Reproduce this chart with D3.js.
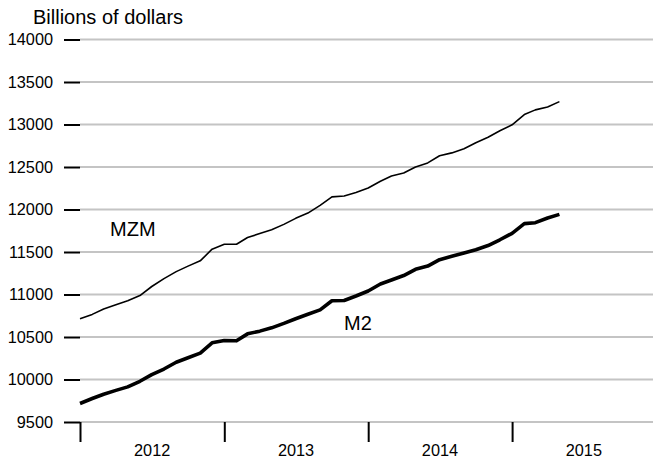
<!DOCTYPE html>
<html>
<head>
<meta charset="utf-8">
<script src="https://cdn.jsdelivr.net/npm/d3@7"></script>
<style>
  body { margin: 0; background: #fff; }
  svg { display: block; font-family: "Liberation Sans", Arial, sans-serif; }
</style>
</head>
<body>
<div id="money_chart"></div>
<script>
// Monthly observations, Jan 2012 - May 2015
var months = d3.timeMonths(new Date(2012, 0, 1), new Date(2015, 5, 1));

var mzm_values = [10715, 10766, 10830, 10880, 10927, 10988, 11094, 11187, 11269, 11334, 11396, 11533,
                  11591, 11591, 11670, 11717, 11761, 11825, 11896, 11958, 12048, 12148, 12159, 12200,
                  12253, 12333, 12393, 12429, 12501, 12548, 12633, 12666, 12715, 12786, 12850, 12926,
                  12996, 13117, 13172, 13207, 13269];

var m2_values  = [9718, 9776, 9827, 9872, 9913, 9979, 10057, 10123, 10203, 10256, 10311, 10432,
                  10459, 10455, 10537, 10569, 10608, 10660, 10715, 10768, 10819, 10927, 10930, 10982,
                  11041, 11123, 11170, 11223, 11296, 11334, 11410, 11449, 11488, 11527, 11576, 11644,
                  11720, 11834, 11845, 11900, 11943];

var y_ticks    = [9500, 10000, 10500, 11000, 11500, 12000, 12500, 13000, 13500, 14000];
var year_ticks = [2012, 2013, 2014, 2015, 2016];
var year_labels = ["2012", "2013", "2014", "2015"];

var width  = 653,
    height = 461,
    margins = {"top": 39.5, "bottom": 39, "left": 80, "right": -3};

var svg = d3.select("#money_chart")
            .append("svg")
              .attr("width", width)
              .attr("height", height);

var x = d3.scaleTime()
          .domain([new Date(2012, 0, 1), new Date(2016, 0, 1)])
          .range([margins.left, width - margins.right]);

var y = d3.scaleLinear()
          .domain([9500, 14000])
          .range([height - margins.bottom, margins.top]);

// Horizontal gridlines
svg.append("g")
   .selectAll("line")
   .data(y_ticks)
   .enter()
   .append("line")
     .attr("x1", margins.left)
     .attr("x2", width)
     .attr("y1", function(d) { return y(d); })
     .attr("y2", function(d) { return y(d); })
     .style("stroke", "#c4c4c4")
     .style("stroke-width", "2px");

// Left axis: short black ticks with labels
var y_axis = d3.axisLeft(y)
               .tickValues(y_ticks)
               .tickSize(16)
               .tickPadding(11)
               .tickFormat(d3.format("d"));

svg.append("g")
     .attr("transform", "translate(" + margins.left + ",0)")
     .call(y_axis)
     .call(function(g) { g.select(".domain").remove(); })
     .call(function(g) {
       g.selectAll(".tick line").style("stroke", "#000").style("stroke-width", "2px");
       g.selectAll(".tick text").style("font-size", "16.3px").style("fill", "#000")
        .style("font-family", "'Liberation Sans', Arial, sans-serif");
     });

// Bottom axis: year boundary ticks, labels centred within each year
var x_axis = d3.axisBottom(x)
               .tickValues(year_ticks.map(function(yr) { return new Date(yr, 0, 1); }))
               .tickSize(20)
               .tickFormat("");

svg.append("g")
     .attr("transform", "translate(0," + y(9500) + ")")
     .call(x_axis)
     .call(function(g) { g.select(".domain").remove(); })
     .call(function(g) {
       g.selectAll(".tick line").style("stroke", "#000").style("stroke-width", "2px");
     });

svg.append("g")
   .selectAll("text")
   .data(year_labels)
   .enter()
   .append("text")
     .attr("x", function(d) { return x(new Date(+d, 6, 2)); })
     .attr("y", 456)
     .attr("text-anchor", "middle")
     .style("font-size", "16.3px")
     .text(function(d) { return d; });

// Series lines
var line = d3.line()
             .x(function(d) { return x(d[0]); })
             .y(function(d) { return y(d[1]); });

svg.append("path")
   .datum(d3.zip(months, mzm_values))
     .attr("d", line)
     .style("fill", "none")
     .style("stroke", "#000")
     .style("stroke-width", "1.6px")
     .style("stroke-linejoin", "round");

svg.append("path")
   .datum(d3.zip(months, m2_values))
     .attr("d", line)
     .style("fill", "none")
     .style("stroke", "#000")
     .style("stroke-width", "3.6px")
     .style("stroke-linejoin", "round");

// Series names and unit title
svg.append("text")
     .attr("x", 110)
     .attr("y", 236)
     .style("font-size", "20px")
     .text("MZM");

svg.append("text")
     .attr("x", 344)
     .attr("y", 330)
     .style("font-size", "20px")
     .text("M2");

svg.append("text")
     .attr("x", 33)
     .attr("y", 24)
     .style("font-size", "20px")
     .text("Billions of dollars");
</script>
</body>
</html>
